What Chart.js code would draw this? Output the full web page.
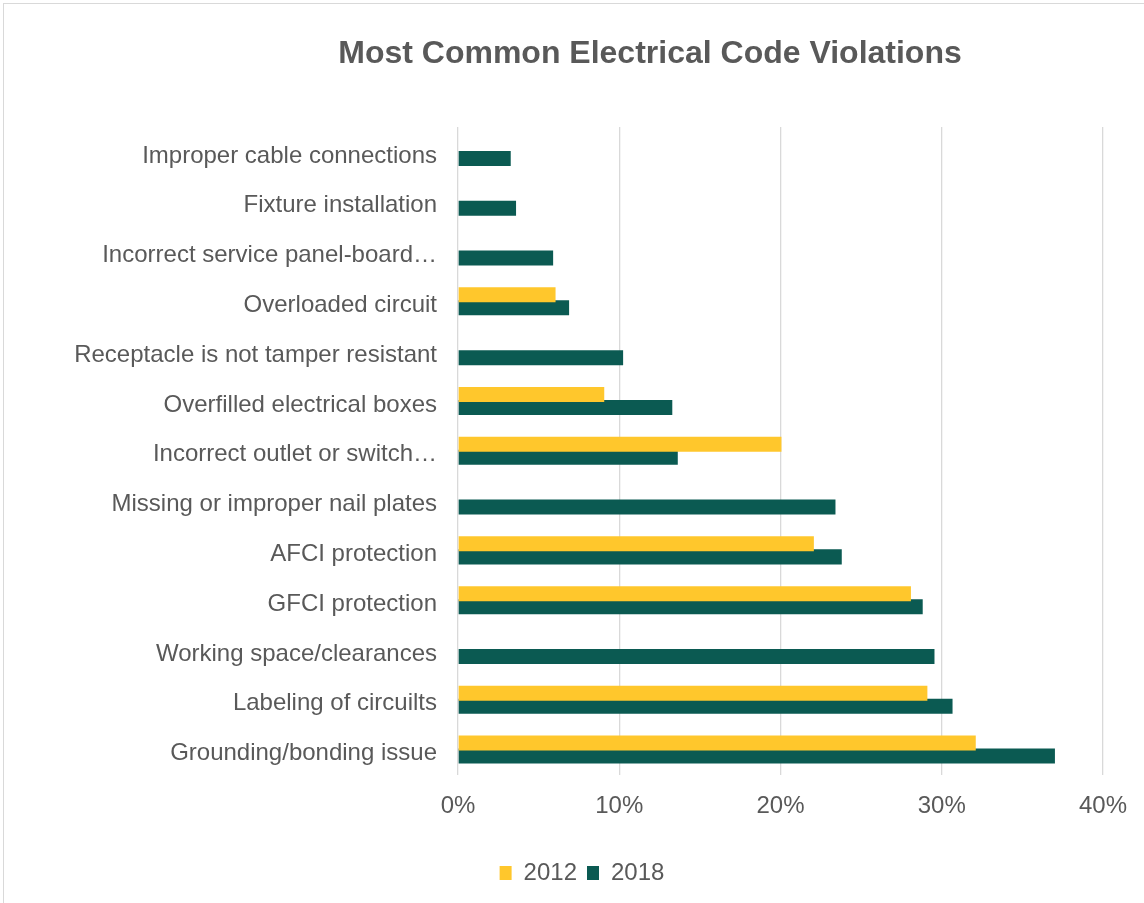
<!DOCTYPE html>
<html>
<head>
<meta charset="utf-8">
<script src="https://cdn.jsdelivr.net/npm/chart.js@4/dist/chart.umd.min.js"></script>
<style>
  html, body { margin: 0; padding: 0; background: #fff; overflow: hidden; }
  #frame { position: absolute; left: 3px; top: 3px; width: 1400px; height: 1200px; border: 1px solid #d9d9d9; }
  #wrap { position: absolute; left: 0; top: 0; width: 1144px; height: 903px; }
</style>
</head>
<body>
<div id="frame"></div>
<div id="wrap"><canvas id="c" width="1144" height="903"></canvas></div>
<script>
const titleText = 'Most Common Electrical Code Violations';
const categories = [
  'Improper cable connections',
  'Fixture installation',
  'Incorrect service panel-board…',
  'Overloaded circuit',
  'Receptacle is not tamper resistant',
  'Overfilled electrical boxes',
  'Incorrect outlet or switch…',
  'Missing or improper nail plates',
  'AFCI protection',
  'GFCI protection',
  'Working space/clearances',
  'Labeling of circuilts',
  'Grounding/bonding issue'
];
const series2012 = [null, null, null, 6.05, null, 9.07, 20.06, null, 22.07, 28.09, null, 29.11, 32.11];
const series2018 = [3.27, 3.60, 5.90, 6.89, 10.24, 13.29, 13.63, 23.41, 23.80, 28.82, 29.55, 30.67, 37.02];
const xTicks = [0, 10, 20, 30, 40];

const TEXT = '#595959';
const FONT = 'Liberation Sans, Arial, sans-serif';

const titlePlugin = {
  id: 'customTitle',
  afterDraw(chart) {
    const ctx = chart.ctx;
    ctx.save();
    ctx.font = 'bold 32px ' + FONT;
    ctx.fillStyle = TEXT;
    ctx.textAlign = 'center';
    ctx.textBaseline = 'middle';
    ctx.fillText(titleText, 650, 54);
    ctx.restore();
  }
};

new Chart(document.getElementById('c'), {
  type: 'bar',
  data: {
    labels: categories,
    datasets: [
      { label: '2012', data: series2012, backgroundColor: '#FFC72C', borderWidth: 0,
        categoryPercentage: 0.523, barPercentage: 1.154 },
      { label: '2018', data: series2018, backgroundColor: '#0B5A52', borderWidth: 0,
        categoryPercentage: 0.523, barPercentage: 1.154 }
    ]
  },
  options: {
    indexAxis: 'y',
    responsive: false,
    animation: false,
    devicePixelRatio: 1,
    layout: { padding: { top: 127, left: 61, right: 41, bottom: 8 } },
    scales: {
      x: {
        min: 0, max: 40,
        afterBuildTicks(scale) { scale.ticks = xTicks.map(v => ({ value: v })); },
        afterFit(scale) { scale.height = 76.5; },
        grid: { color: '#d9d9d9', lineWidth: 1.3, drawTicks: false },
        border: { display: false },
        ticks: { color: TEXT, font: { family: FONT, size: 24 }, padding: 17,
                 callback: v => v + '%' }
      },
      y: {
        afterFit(scale) { scale.width = 397; },
        grid: { display: false, drawTicks: false },
        border: { display: false },
        ticks: { color: TEXT, font: { family: FONT, size: 24 }, padding: 21, autoSkip: false, labelOffset: 4 }
      }
    },
    plugins: {
      title: { display: false },
      tooltip: { enabled: false },
      legend: {
        position: 'bottom',
        labels: { color: TEXT, font: { family: FONT, size: 24 }, boxWidth: 12, boxHeight: 14, padding: 10 }
      }
    }
  },
  plugins: [titlePlugin]
});
</script>
</body>
</html>
